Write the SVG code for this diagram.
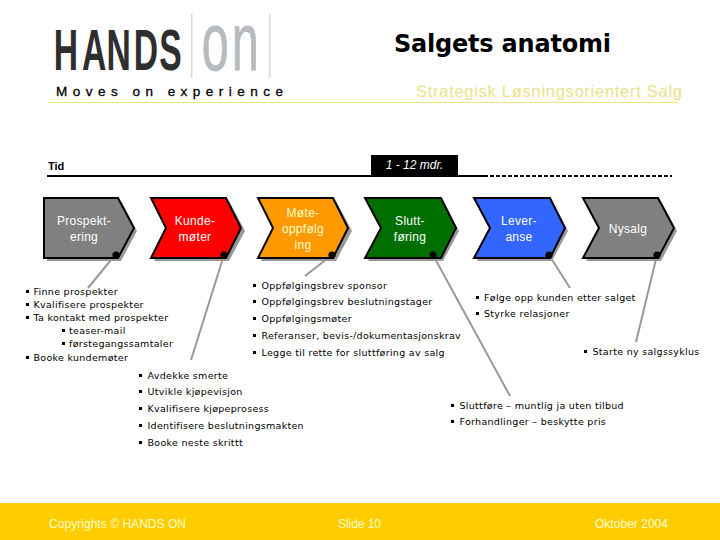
<svg xmlns="http://www.w3.org/2000/svg" width="720" height="540" viewBox="0 0 720 540">
<style>
.c{stroke:#000;stroke-width:2;stroke-linejoin:miter}
.s{fill:#999}
.l{font:12px "Liberation Sans",Arial,sans-serif;fill:#fff;text-anchor:middle;letter-spacing:.3px}
.y{fill:#ffffcc}
.b{font:9.5px "DejaVu Sans",Verdana,sans-serif;fill:#000;letter-spacing:.3px}
.f{font:12px "Liberation Sans",Arial,sans-serif;fill:#ffffcc}
.k{stroke:#999;stroke-width:2;fill:none}
</style>
<defs>
<path id="arrow" class="s" d="M3 3H78L94 33 78 63H3L19 33Z"/>
<circle id="dot" r="3.6" fill="#000"/>
<rect id="m" x="0" y="-5" width="3" height="3" fill="#000"/>
</defs>
<rect width="720" height="540" fill="#fff"/>
<g id="logo">
<text transform="translate(56,70) scale(.58,1)" x="-4 45 87 134 178" font-family="Liberation Sans,sans-serif" font-size="58" font-weight="700" fill="#2e2e2e">HANDS</text>
<rect x="191" y="14" width="1.5" height="64" fill="#d8d8d8"/>
<text transform="translate(200,70) scale(.6,1)" x="3 53" font-family="Liberation Sans,sans-serif" font-size="81" fill="#b7bbc0" stroke="#b7bbc0" stroke-width="1">on</text>
<rect x="269" y="14" width="1.5" height="64" fill="#d8d8d8"/>
</g>
<g id="header">
<text x="56" y="96" font-family="Liberation Sans,sans-serif" font-size="13.5" fill="#000" stroke="#000" stroke-width=".3" textLength="227" lengthAdjust="spacing">Moves on experience</text>
<text x="394" y="52" font-family="DejaVu Sans,sans-serif" font-size="24" font-weight="700" fill="#000" textLength="217" lengthAdjust="spacing">Salgets anatomi</text>
<text x="416" y="97" font-family="Liberation Sans,sans-serif" font-size="16.500" fill="#e9e38a" textLength="266" lengthAdjust="spacing">Strategisk Løsningsorientert Salg</text>
<rect x="48" y="102" width="630" height="1" fill="#efe57a"/>
</g>
<g id="timeline">
<text x="48" y="170" font-family="Liberation Sans,sans-serif" font-size="11" font-weight="700" fill="#000">Tid</text>
<rect x="47" y="175" width="437" height="2" fill="#000"/>
<path d="M484 176H672" stroke="#000" stroke-width="2" stroke-dasharray="4 2" fill="none"/>
<rect x="371" y="155" width="87" height="20" fill="#000"/>
<text x="414.500" y="169" font-family="Liberation Sans,sans-serif" font-size="12" font-style="italic" fill="#fff" text-anchor="middle">1 - 12 mdr.</text>
</g>
<g id="connectors">
<path class="k" d="M115 255L88 288M224 255L191 360M332 255L305 276M433 255L510 396M549 255L570 288M657 255L636 342"/>
</g>
<g id="prospektering">
<path class="s" d="M47 201H121L137 231 121 261H47Z"/>
<path class="c" fill="#808080" d="M44 198H118L134 228 118 258H44Z"/>
<use href="#dot" x="116" y="255"/>
<text class="l" x="84" y="225">Prospekt-</text><text class="l" x="84" y="241">ering</text>
</g>
<g id="kundemoter">
<use href="#arrow" x="151" y="198"/>
<path class="c" fill="#ff0000" d="M151 198H226L241 228 226 258H151L166 228Z"/>
<use href="#dot" x="224" y="255"/>
<text class="l" x="195" y="225">Kunde-</text><text class="l" x="195" y="241">møter</text>
</g>
<g id="moteoppfolging">
<use href="#arrow" x="258" y="198"/>
<path class="c" fill="#ff9900" d="M258 198H333L348 228 333 258H258L273 228Z"/>
<use href="#dot" x="332" y="255"/>
<text class="l y" x="303" y="217">Møte-</text><text class="l y" x="303" y="233">oppfølg</text><text class="l y" x="303" y="249">ing</text>
</g>
<g id="sluttforing">
<use href="#arrow" x="365" y="198"/>
<path class="c" fill="#006f00" d="M365 198H441L456 228 441 258H365L381 228Z"/>
<use href="#dot" x="433" y="255"/>
<text class="l" x="410" y="225">Slutt-</text><text class="l" x="410" y="241">føring</text>
</g>
<g id="leveranse">
<use href="#arrow" x="474" y="198"/>
<path class="c" fill="#3366ff" d="M474 198H550L565 228 550 258H474L490 228Z"/>
<use href="#dot" x="549" y="255"/>
<text class="l" x="519" y="225">Lever-</text><text class="l" x="519" y="241">anse</text>
</g>
<g id="nysalg">
<use href="#arrow" x="583" y="198"/>
<path class="c" fill="#808080" d="M583 198H658L674 228 658 258H583L599 228Z"/>
<use href="#dot" x="657" y="255"/>
<text class="l" x="628" y="233">Nysalg</text>
</g>
<g id="list-prospektering">
<use href="#m" x="26" y="295"/><text class="b" x="33.500" y="295">Finne prospekter</text>
<use href="#m" x="26" y="308"/><text class="b" x="33.500" y="308">Kvalifisere prospekter</text>
<use href="#m" x="26" y="321"/><text class="b" x="33.500" y="321">Ta kontakt med prospekter</text>
<use href="#m" x="62" y="334"/><text class="b" x="69" y="334">teaser-mail</text>
<use href="#m" x="62" y="347"/><text class="b" x="69" y="347">førstegangssamtaler</text>
<use href="#m" x="26" y="361"/><text class="b" x="33.500" y="361">Booke kundemøter</text>
</g>
<g id="list-kundemoter">
<use href="#m" x="139" y="379"/><text class="b" x="147.500" y="379">Avdekke smerte</text>
<use href="#m" x="139" y="395"/><text class="b" x="147.500" y="395">Utvikle kjøpevisjon</text>
<use href="#m" x="139" y="412"/><text class="b" x="147.500" y="412">Kvalifisere kjøpeprosess</text>
<use href="#m" x="139" y="429"/><text class="b" x="147.500" y="429">Identifisere beslutningsmakten</text>
<use href="#m" x="139" y="446"/><text class="b" x="147.500" y="446">Booke neste skrittt</text>
</g>
<g id="list-moteoppfolging">
<use href="#m" x="253" y="289"/><text class="b" x="261.500" y="289">Oppfølgingsbrev sponsor</text>
<use href="#m" x="253" y="305"/><text class="b" x="261.500" y="305">Oppfølgingsbrev beslutningstager</text>
<use href="#m" x="253" y="322"/><text class="b" x="261.500" y="322">Oppfølgingsmøter</text>
<use href="#m" x="253" y="339"/><text class="b" x="261.500" y="339">Referanser, bevis-/dokumentasjonskrav</text>
<use href="#m" x="253" y="356"/><text class="b" x="261.500" y="356">Legge til rette for sluttføring av salg</text>
</g>
<g id="list-sluttforing">
<use href="#m" x="451" y="409"/><text class="b" x="459.500" y="409">Sluttføre – muntlig ja uten tilbud</text>
<use href="#m" x="451" y="425"/><text class="b" x="459.500" y="425">Forhandlinger – beskytte pris</text>
</g>
<g id="list-leveranse">
<use href="#m" x="476" y="301"/><text class="b" x="484" y="301">Følge opp kunden etter salget</text>
<use href="#m" x="476" y="317"/><text class="b" x="484" y="317">Styrke relasjoner</text>
</g>
<g id="list-nysalg">
<use href="#m" x="584" y="355"/><text class="b" x="592.500" y="355">Starte ny salgssyklus</text>
</g>
<g id="footer">
<rect y="503" width="720" height="37" fill="#ffcc00"/>
<text class="f" x="49" y="528" textLength="137" lengthAdjust="spacing">Copyrights © HANDS ON</text>
<text class="f" x="338" y="528" textLength="43" lengthAdjust="spacing">Slide 10</text>
<text class="f" x="595" y="528" textLength="73" lengthAdjust="spacing">Oktober 2004</text>
</g>
</svg>
